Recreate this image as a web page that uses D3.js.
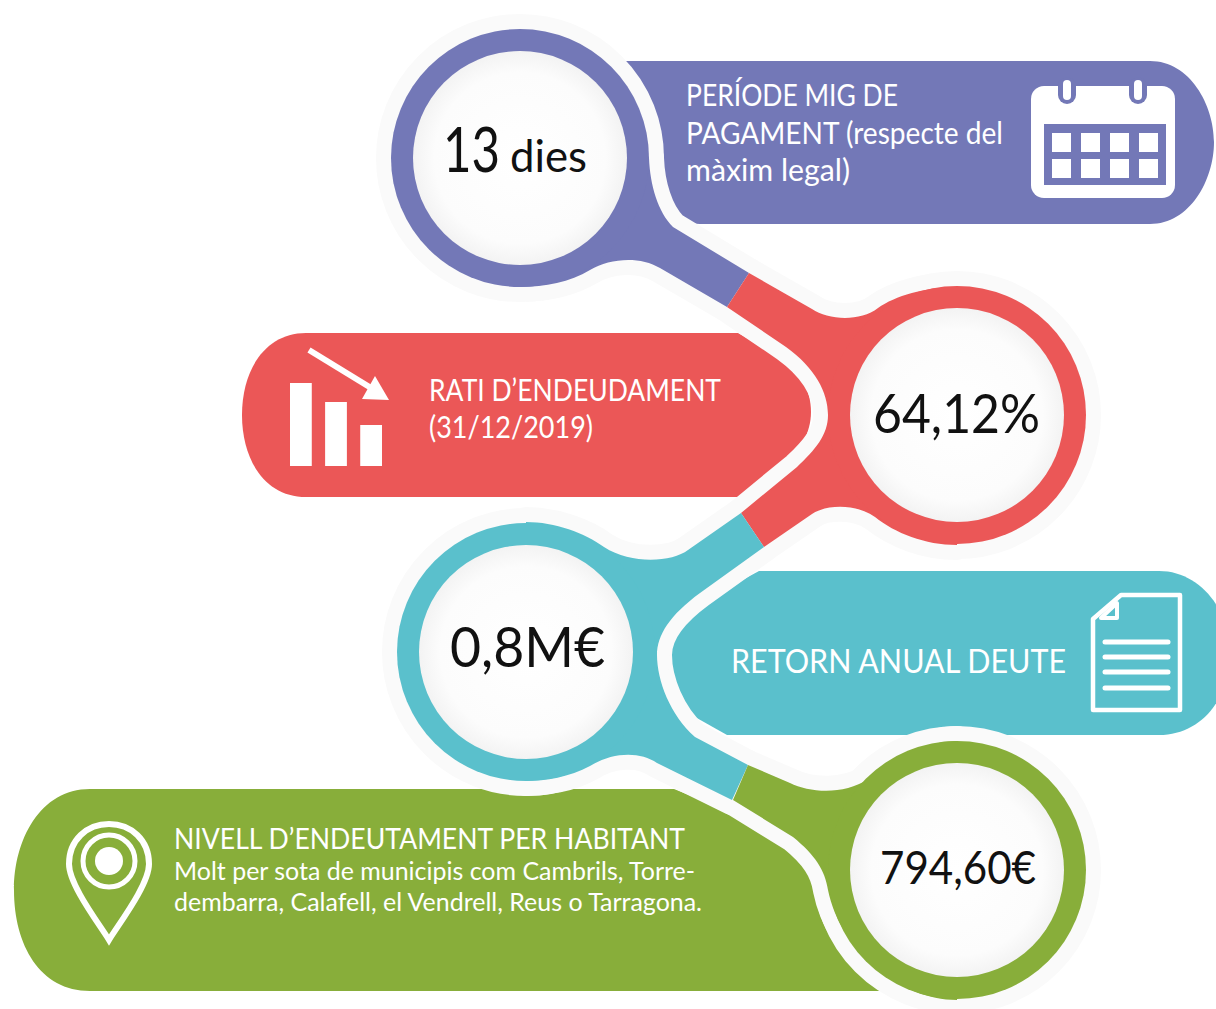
<!DOCTYPE html>
<html>
<head>
<meta charset="utf-8">
<script src="https://cdn.jsdelivr.net/npm/d3@7"></script>
<style>
html, body { margin: 0; padding: 0; background: #fff; }
svg { display: block; }
text { font-family: Lato, "Open Sans", sans-serif; }
</style>
</head>
<body>
<div class="canvas"></div>
<script>
// DATA
var categories = ["periode", "rati", "retorn", "nivell"];
var colors = ["#7378b7", "#eb5757", "#5ac0cc", "#88ae3a"];
var nodeX = [520, 957, 526, 957];
var nodeY = [158, 415, 652, 870];

var valueLabels = ["13", "64,12%", "0,8M€", "794,60€"];
var valueSizes = [62, 54, 56, 46];
var valueLeft = [443, 873, 450, 880];
var valueWidths = [57, 167, 155, 156];
var valueBase = [172, 433, 667, 884];

var barIconValues = [83, 64, 41];
var barIconNames = ["a", "b", "c"];

// every line of the pills: text, x, baseline, width, size
var pillLines = [
	["PERÍODE MIG DE", 686, 106, 212, 30],
	["PAGAMENT (respecte del", 686, 144, 317, 30],
	["màxim legal)", 686, 181, 164, 30],
	["RATI D’ENDEUDAMENT", 429, 401, 292, 30],
	["(31/12/2019)", 429, 438, 164, 30],
	["RETORN ANUAL DEUTE", 731, 673, 335, 32],
	["NIVELL D’ENDEUTAMENT PER HABITANT", 174, 849, 511, 28],
	["Molt per sota de municipis com Cambrils, Torre-", 174, 880, 521, 25],
	["dembarra, Calafell, el Vendrell, Reus o Tarragona.", 174, 911, 528, 25]
];

var pillShapes = [
	"M600,61 L1150,61 C1190,61 1214,105 1214,142 C1214,180 1190,224 1150,224 L700,224 C680,224 665,205 660,183 L600,100 Z",
	"M738,333 L306,333 C265,333 242,370 242,415 C242,460 265,497 306,497 L738,497 L786,467 C800,452 811,432 811,412 C811,390 800,372 786,360 Z",
	"M759,571 L700,603 C682,618 668,640 668,667 C668,685 680,705 695,717 L727,735 L1159,735 C1200,735 1230,700 1230,653 C1230,610 1200,571 1159,571 Z",
	"M674,789 L90,789 C40,789 14,840 14,890 C14,945 40,991 90,991 L930,991 L900,860 L800,840 Z"
];

var linkShapes = [
	"M649,158 C650,185 658,212 673,227 L749,273 L727,307 L660,268 C640,256 610,258 590,270 C570,282 545,287 520,287 Z",
	"M749,273 L812,309 C828,320 860,322 878,308 C895,296 925,287 957,287 L957,545 C925,545 895,533 875,517 C855,503 825,505 812,514 L764,547 L741,513 L797,467 C815,450 828,435 828,415 C828,392 815,368 786,347 L727,307 Z",
	"M741,513 L688,550 C672,562 632,565 604,547 C585,533 555,522 526,522 L526,781 C545,781 570,777 590,766 C612,752 640,751 657,763 L732,800 L748,765 L695,737 C670,715 657,680 657,655 C657,635 670,615 700,593 L764,547 Z",
	"M748,765 L790,783 C810,793 845,795 868,779 C890,762 925,741 957,741 L957,1000 C900,1000 840,950 828,890 C825,870 815,855 793,837 L733,800 Z"
];

var width = 1216, height = 1009;

var svg = d3.select(".canvas")
	.append("svg")
	.attr("width", width)
	.attr("height", height);

var grad = svg.append("defs").append("radialGradient").attr("id", "disc");
grad.append("stop").attr("offset", "0%").attr("stop-color", "#ffffff");
grad.append("stop").attr("offset", "80%").attr("stop-color", "#fcfcfc");
grad.append("stop").attr("offset", "100%").attr("stop-color", "#f3f3f3");

// PILLS
svg.append("g").selectAll("path")
	.data(pillShapes)
	.join("path")
	.attr("d", function(d){ return d; })
	.attr("fill", function(d, i){ return colors[i]; });

// HALO round the rings and links
var halo = svg.append("g")
	.attr("fill", "#fafafa")
	.attr("stroke", "#fafafa")
	.attr("stroke-width", 30)
	.attr("stroke-linejoin", "round");
halo.selectAll("path").data(linkShapes).join("path").attr("d", function(d){ return d; });
halo.selectAll("circle").data(categories).join("circle")
	.attr("cx", function(d, i){ return nodeX[i]; })
	.attr("cy", function(d, i){ return nodeY[i]; })
	.attr("r", 129);

// RINGS AND LINKS
var rings = svg.append("g");
rings.selectAll("path").data(linkShapes).join("path")
	.attr("d", function(d){ return d; })
	.attr("fill", function(d, i){ return colors[i]; });
rings.selectAll("circle.outer").data(categories).join("circle")
	.attr("class", "outer")
	.attr("cx", function(d, i){ return nodeX[i]; })
	.attr("cy", function(d, i){ return nodeY[i]; })
	.attr("r", 129)
	.attr("fill", function(d, i){ return colors[i]; });
rings.selectAll("circle.inner").data(categories).join("circle")
	.attr("class", "inner")
	.attr("cx", function(d, i){ return nodeX[i]; })
	.attr("cy", function(d, i){ return nodeY[i]; })
	.attr("r", 107)
	.attr("fill", "url(#disc)");

// VALUES
svg.append("g").selectAll("text")
	.data(valueLabels)
	.join("text")
	.attr("x", function(d, i){ return valueLeft[i]; })
	.attr("y", function(d, i){ return valueBase[i]; })
	.attr("font-size", function(d, i){ return valueSizes[i]; })
	.attr("textLength", function(d, i){ return valueWidths[i]; })
	.attr("lengthAdjust", "spacingAndGlyphs")
	.attr("fill", "#111")
	.text(function(d){ return d; });

svg.append("text")
	.attr("x", 510)
	.attr("y", 172)
	.attr("font-size", 44)
	.attr("textLength", 77)
	.attr("lengthAdjust", "spacingAndGlyphs")
	.attr("fill", "#111")
	.text("dies");

// PILL TEXT
svg.append("g").selectAll("text")
	.data(pillLines)
	.join("text")
	.attr("x", function(d){ return d[1]; })
	.attr("y", function(d){ return d[2]; })
	.attr("textLength", function(d){ return d[3]; })
	.attr("font-size", function(d){ return d[4]; })
	.attr("lengthAdjust", "spacingAndGlyphs")
	.attr("fill", "#fff")
	.text(function(d){ return d[0]; });

// CALENDAR ICON
var cal = svg.append("g");
cal.append("rect").attr("x", 1031).attr("y", 86).attr("width", 144).attr("height", 112).attr("rx", 13).attr("fill", "#fff");
cal.append("rect").attr("x", 1044).attr("y", 124).attr("width", 122).attr("height", 61).attr("fill", colors[0]);
[1052, 1081, 1110, 1139].forEach(function(x){
	[133, 159].forEach(function(y){
		cal.append("rect").attr("x", x).attr("y", y).attr("width", 19).attr("height", 19).attr("fill", "#fff");
	});
});
[1067, 1138].forEach(function(x){
	cal.append("rect").attr("x", x - 9).attr("y", 77).attr("width", 18).attr("height", 27).attr("rx", 9).attr("fill", colors[0]);
	cal.append("rect").attr("x", x - 4).attr("y", 80).attr("width", 8).attr("height", 20).attr("rx", 4).attr("fill", "#fff");
});

// BAR ICON
var iconX = d3.scaleBand().domain(barIconNames).range([290, 382]).paddingInner(0.38);
var iconY = d3.scaleLinear().domain([0, 83]).range([466, 383]);
svg.append("g").selectAll("rect")
	.data(barIconValues)
	.join("rect")
	.attr("x", function(d, i){ return iconX(barIconNames[i]); })
	.attr("y", function(d){ return iconY(d); })
	.attr("width", iconX.bandwidth())
	.attr("height", function(d){ return iconY(0) - iconY(d); })
	.attr("fill", "#fff");
svg.append("path").attr("d", "M309,350 L376,391").attr("stroke", "#fff").attr("stroke-width", 6).attr("fill", "none");
svg.append("path").attr("d", "M375,376 L389,400 L362,399 Z").attr("fill", "#fff");

// DOCUMENT ICON
var doc = svg.append("g").attr("fill", "none").attr("stroke", "#fff").attr("stroke-linejoin", "round");
doc.append("path").attr("stroke-width", 4.5).attr("d", "M1121,595 L1180,595 L1180,710 L1093,710 L1093,619 Z");
doc.append("path").attr("stroke-width", 4).attr("d", "M1117,603 L1117,618 L1101,618 Z");
[642, 657, 672, 688].forEach(function(y){
	doc.append("line").attr("x1", 1105).attr("x2", 1168).attr("y1", y).attr("y2", y)
		.attr("stroke-width", 5).attr("stroke-linecap", "round");
});

// PIN ICON
var pin = svg.append("g").attr("fill", "none").attr("stroke", "#fff");
pin.append("path").attr("stroke-width", 6)
	.attr("d", "M109,940 C100,925 69,885 69,864 C69,840 87,824 109,824 C131,824 149,840 149,864 C149,885 118,925 109,940 Z");
pin.append("circle").attr("cx", 109).attr("cy", 861).attr("r", 26).attr("stroke-width", 5);
pin.append("circle").attr("cx", 109).attr("cy", 861).attr("r", 14).attr("fill", "#fff").attr("stroke", "none");
</script>
</body>
</html>
